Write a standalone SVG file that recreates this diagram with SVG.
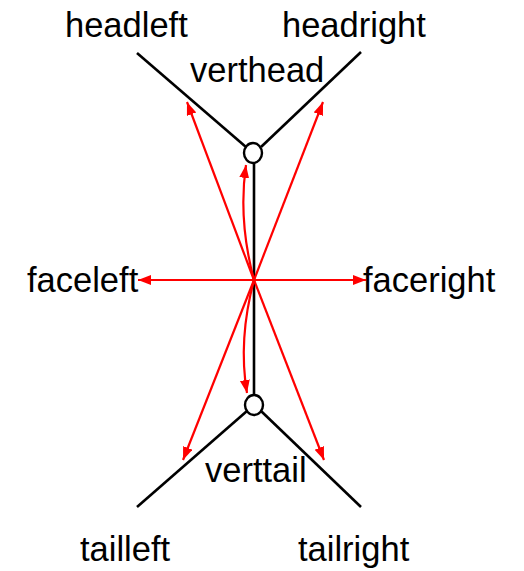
<svg xmlns="http://www.w3.org/2000/svg" width="524" height="571" viewBox="0 0 524 571">
<style>
text{font-family:"Liberation Sans",Arial,sans-serif;font-size:34.5px;fill:#000}
.blk{stroke:#000;stroke-width:2.6;fill:none}
.red{stroke:#f00;stroke-width:2.2;fill:none;marker-end:url(#ah)}
.vtx{fill:#fff;stroke:#000;stroke-width:2.4}
</style>
<defs>
<marker id="ah" markerUnits="userSpaceOnUse" markerWidth="14" markerHeight="11" refX="13" refY="5" orient="auto">
<path d="M0,0 L13,5 L0,10 z" fill="#f00"/>
</marker>
</defs>
<rect width="524" height="571" fill="#fff"/>
<g id="edges">
<line class="blk" x1="137" y1="53" x2="246" y2="147"/>
<line class="blk" x1="361" y1="52" x2="261" y2="147"/>
<line class="blk" x1="254" y1="163" x2="254" y2="395"/>
<line class="blk" x1="137" y1="507" x2="247" y2="411"/>
<line class="blk" x1="361" y1="507" x2="261" y2="411"/>
<line class="red" x1="254" y1="280" x2="187" y2="102"/>
<line class="red" x1="254" y1="280" x2="323" y2="102"/>
<line class="red" x1="254" y1="280" x2="138" y2="280"/>
<line class="red" x1="254" y1="280" x2="366" y2="280"/>
<line class="red" x1="254" y1="280" x2="183" y2="460"/>
<line class="red" x1="254" y1="280" x2="324" y2="460"/>
<path class="red" d="M254,280 Q238,220 246,165"/>
<path class="red" d="M254,280 Q238,340 247,393"/>
</g>
<g id="verthead"><ellipse class="vtx" cx="253" cy="153" rx="9" ry="10"/><text x="190" y="82">verthead</text></g>
<g id="verttail"><ellipse class="vtx" cx="254" cy="405" rx="9" ry="10"/><text x="205" y="482">verttail</text></g>
<g id="headleft"><text x="65" y="37">headleft</text></g>
<g id="headright"><text x="282" y="37">headright</text></g>
<g id="faceleft"><text x="27" y="292">faceleft</text></g>
<g id="faceright"><text x="363" y="292">faceright</text></g>
<g id="tailleft"><text x="80" y="561">tailleft</text></g>
<g id="tailright"><text x="298" y="561">tailright</text></g>
</svg>
